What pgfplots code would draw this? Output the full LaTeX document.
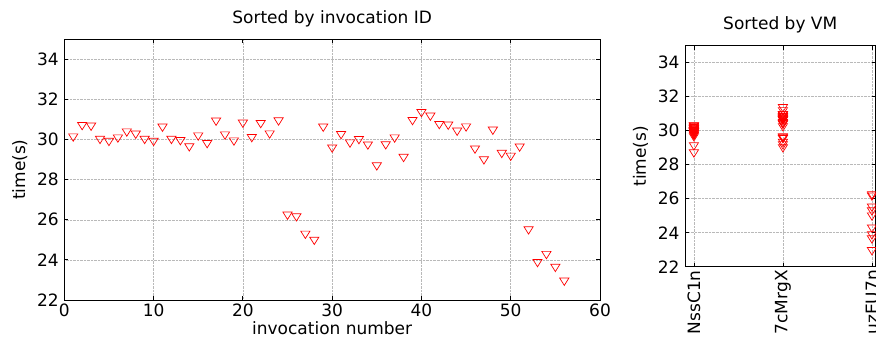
\documentclass[border=0pt]{standalone}
\usepackage{fontspec}
\setmainfont{DejaVu Sans}
\usepackage{pgfplots}
\pgfplotsset{compat=1.18}

% open downward triangle with its bounding box centred on the data point
\pgfdeclareplotmark{dtri}{%
  \pgfpathmoveto{\pgfqpoint{0pt}{-0.8\pgfplotmarksize}}%
  \pgfpathlineto{\pgfqpoint{-\pgfplotmarksize}{0.8\pgfplotmarksize}}%
  \pgfpathlineto{\pgfqpoint{\pgfplotmarksize}{0.8\pgfplotmarksize}}%
  \pgfpathclose
  \pgfusepathqstroke
}

\newcommand{\lblfont}{\fontsize{17bp}{20bp}\selectfont}

\pgfplotsset{
  runstyle/.style={
    scale only axis,
    axis line style={black, line width=0.8bp},
    tick style={black, line width=0.8bp},
    tick align=inside,
    major tick length=4bp,
    grid=major,
    major grid style={gray!55, densely dotted, line width=0.5bp},
    tick label style={font=\lblfont},
    yticklabel style={xshift=-2bp},
    label style={font=\lblfont},
    ylabel style={yshift=3bp},
    every axis title/.append style={font=\lblfont, yshift=3bp},
    /pgf/number format/assume math mode=true,
    ymin=22, ymax=35,
    ytick={22,24,26,28,30,32,34},
    ylabel={time(s)},
  },
  tri/.style={only marks, mark=dtri, mark size=4.6bp,
    mark options={draw=red, line width=0.7bp}},
}

\begin{document}
\begin{tikzpicture}
\useasboundingbox (0,0) rectangle (876bp,343bp);

% run time of each invocation, in invocation order
\begin{axis}[runstyle,
  at={(64.3bp,43bp)}, anchor=south west,
  width=535.7bp, height=260.7bp,
  xmin=0, xmax=60,
  xtick={0,10,20,30,40,50,60},
  xlabel={invocation number},
  xlabel style={yshift=2bp},
  title={\lblfont Sorted by invocation ID},
]
\addplot[tri] table {
x y
1 30.10
2 30.67
3 30.64
4 29.98
5 29.88
6 30.05
7 30.35
8 30.24
9 29.98
10 29.88
11 30.59
12 29.98
13 29.92
14 29.61
15 30.15
16 29.77
17 30.89
18 30.20
19 29.90
20 30.79
21 30.07
22 30.77
23 30.25
24 30.90
25 26.20
26 26.12
27 25.25
28 24.95
29 30.59
30 29.55
31 30.22
32 29.80
33 29.97
34 29.70
35 28.66
36 29.71
37 30.05
38 29.08
39 30.92
40 31.32
41 31.14
42 30.72
43 30.69
44 30.39
45 30.60
46 29.50
47 28.96
48 30.44
49 29.28
50 29.14
51 29.60
52 25.47
53 23.84
54 24.24
55 23.60
56 22.91
};
\end{axis}

% the same run times grouped by the VM that served them
\begin{axis}[runstyle,
  at={(685bp,76.3bp)}, anchor=south west,
  width=190.5bp, height=221bp,
  xmin=-0.1, xmax=2.04,
  xtick={0,1,2},
  xticklabels={NssC1n,7cMrgX,uzEU7n},
  xticklabel style={rotate=90, anchor=east},
  title={\lblfont Sorted by VM},
]
\addplot[tri] table {
x y
0 30.10
0 29.98
0 29.88
0 30.05
0 30.24
0 29.98
0 29.88
0 29.98
0 29.92
0 29.61
0 30.15
0 29.77
0 29.90
0 30.07
0 30.25
0 30.22
0 29.80
0 29.97
0 29.70
0 28.66
0 29.71
0 30.05
0 29.08
1 30.67
1 30.64
1 30.35
1 30.59
1 30.89
1 30.20
1 30.79
1 30.77
1 30.90
1 30.59
1 29.55
1 30.92
1 31.32
1 31.14
1 30.72
1 30.69
1 30.39
1 30.60
1 29.50
1 28.96
1 30.44
1 29.28
1 29.14
1 29.60
2 26.20
2 26.12
2 25.25
2 24.95
2 25.47
2 23.84
2 24.24
2 23.60
2 22.91
};
\end{axis}
\end{tikzpicture}
\end{document}
